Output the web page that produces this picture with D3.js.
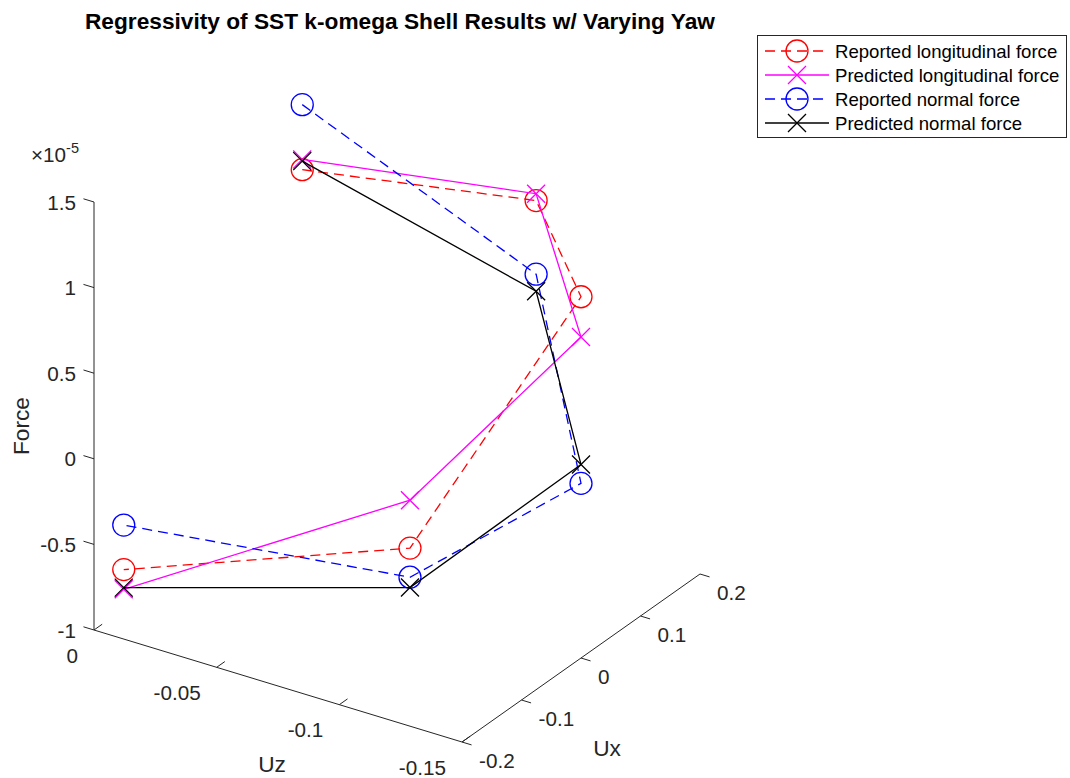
<!DOCTYPE html>
<html>
<head>
<meta charset="utf-8">
<script src="https://cdn.jsdelivr.net/npm/d3@7"></script>
<style>
  body { margin: 0; background: #fff; }
  text { font-family: "Liberation Sans", Arial, Helvetica, sans-serif; fill: #262626; }
</style>
</head>
<body>
<div id="chart"></div>
<script>
// yaw sweep, velocity components (same for every series)
var yaw = [0, 45, 90, 135, 180];
var ux  = [0.15, 0.106, 0, -0.106, -0.15];
var uz  = [0, -0.106, -0.15, -0.106, 0];

// forces, in units of 1e-5
var reportedLong  = [0.83, 1.22, 1.11, -0.29, -0.77];
var predictedLong = [0.89, 1.26, 0.875, -0.01, -0.885];
var reportedNorm  = [1.21, 0.79, 0.02, -0.46, -0.51];
var predictedNorm = [0.88, 0.69, 0.13, -0.52, -0.875];

var seriesNames = ["Reported longitudinal force", "Predicted longitudinal force",
                   "Reported normal force", "Predicted normal force"];

var uzTicks = [0, -0.05, -0.1, -0.15];
var uxTicks = [-0.2, -0.1, 0, 0.1, 0.2];
var fTicks  = [-1, -0.5, 0, 0.5, 1, 1.5];

var series = [
  { name: seriesNames[0], values: reportedLong,  color: "#ff0000", dash: "10,6", marker: "o" },
  { name: seriesNames[1], values: predictedLong, color: "#ff00ff", dash: null,   marker: "x" },
  { name: seriesNames[2], values: reportedNorm,  color: "#0000ff", dash: "10,6", marker: "o" },
  { name: seriesNames[3], values: predictedNorm, color: "#000000", dash: null,   marker: "x" }
];

var width = 1070, height = 778;

var svg = d3.select("#chart").append("svg")
    .attr("width", width)
    .attr("height", height);

////////////////////////////////////////////////////////
// 3D projection ///////////////////////////////////////
////////////////////////////////////////////////////////

// each axis into [0,1] of the box
var sUz = d3.scaleLinear().domain([0, -0.15]).range([0, 1]);
var sUx = d3.scaleLinear().domain([-0.2, 0.2]).range([0, 1]);
var sF  = d3.scaleLinear().domain([-1, 1.5]).range([0, 1]);

// screen position of box corner and edge vectors (MATLAB-like view)
var O  = [94, 630],
    eA = [368, 112],   // along Uz
    eB = [238, -168],  // along Ux
    eC = [0, -428];    // along Force

function proj(z, x, f) {
  var a = sUz(z), b = sUx(x), c = sF(f);
  return [O[0] + a * eA[0] + b * eB[0] + c * eC[0],
          O[1] + a * eA[1] + b * eB[1] + c * eC[1]];
}

function unit(v) { var l = Math.hypot(v[0], v[1]); return [v[0] / l, v[1] / l]; }

var axisColor = "#262626";
var axes = svg.append("g");

// Force axis (Uz=0, Ux=-0.2)
var f0 = proj(0, -0.2, -1), f1 = proj(0, -0.2, 1.5);
axes.append("line").attr("x1", f0[0]).attr("y1", f0[1]).attr("x2", f1[0]).attr("y2", f1[1])
    .attr("stroke", axisColor).attr("stroke-width", 1);
var tF = unit(eA);
fTicks.forEach(function(t) {
  var p = proj(0, -0.2, t);
  axes.append("line").attr("x1", p[0]).attr("y1", p[1])
      .attr("x2", p[0] - tF[0] * 11).attr("y2", p[1] - tF[1] * 11)
      .attr("stroke", axisColor).attr("stroke-width", 1);
  axes.append("text").attr("x", p[0] - 18).attr("y", p[1])
      .attr("text-anchor", "end").attr("dominant-baseline", "central")
      .style("font-size", "20.7px").text(String(t));
});
var ex = axes.append("text").attr("x", 31).attr("y", 162).style("font-size", "20.7px");
ex.append("tspan").text("\u00d710");
ex.append("tspan").attr("dy", -9).style("font-size", "14.5px").text("-5");

// Uz axis (Ux=-0.2, F=-1)
var z0 = proj(0, -0.2, -1), z1 = proj(-0.15, -0.2, -1);
axes.append("line").attr("x1", z0[0]).attr("y1", z0[1]).attr("x2", z1[0]).attr("y2", z1[1])
    .attr("stroke", axisColor).attr("stroke-width", 1);
var tZ = unit(eB);
uzTicks.forEach(function(t) {
  var p = proj(t, -0.2, -1);
  axes.append("line").attr("x1", p[0]).attr("y1", p[1])
      .attr("x2", p[0] + tZ[0] * 10).attr("y2", p[1] + tZ[1] * 10)
      .attr("stroke", axisColor).attr("stroke-width", 1);
  axes.append("text").attr("x", p[0] - 16).attr("y", p[1] + 25)
      .attr("text-anchor", "end").attr("dominant-baseline", "central")
      .style("font-size", "20.7px").text(String(t));
});

// Ux axis (Uz=-0.15, F=-1)
var x0 = proj(-0.15, -0.2, -1), x1 = proj(-0.15, 0.2, -1);
axes.append("line").attr("x1", x0[0]).attr("y1", x0[1]).attr("x2", x1[0]).attr("y2", x1[1])
    .attr("stroke", axisColor).attr("stroke-width", 1);
var tX = unit(eA);
uxTicks.forEach(function(t) {
  var p = proj(-0.15, t, -1);
  axes.append("line").attr("x1", p[0]).attr("y1", p[1])
      .attr("x2", p[0] + tX[0] * 10).attr("y2", p[1] + tX[1] * 10)
      .attr("stroke", axisColor).attr("stroke-width", 1);
  axes.append("text").attr("x", p[0] + 17).attr("y", p[1] + 18)
      .attr("text-anchor", "start").attr("dominant-baseline", "central")
      .style("font-size", "20.7px").text(String(t));
});

// axis labels
axes.append("text").attr("transform", "translate(21,426) rotate(-90)")
    .attr("text-anchor", "middle").attr("dominant-baseline", "central")
    .style("font-size", "22.7px").text("Force");
axes.append("text").attr("x", 272).attr("y", 764)
    .attr("text-anchor", "middle").attr("dominant-baseline", "central")
    .style("font-size", "22.7px").text("Uz");
axes.append("text").attr("x", 607).attr("y", 748)
    .attr("text-anchor", "middle").attr("dominant-baseline", "central")
    .style("font-size", "22.7px").text("Ux");

// title
svg.append("text").attr("x", 400).attr("y", 29)
    .attr("text-anchor", "middle")
    .style("font-size", "22.7px").style("font-weight", "bold").style("fill", "#000")
    .text("Regressivity of SST k-omega Shell Results w/ Varying Yaw");

////////////////////////////////////////////////////////
// Series //////////////////////////////////////////////
////////////////////////////////////////////////////////

var line = d3.line();

function drawMarker(g, type, p, color) {
  if (type === "o") {
    g.append("circle").attr("cx", p[0]).attr("cy", p[1]).attr("r", 11)
        .attr("fill", "none").attr("stroke", color).attr("stroke-width", 1.3);
  } else {
    var h = 9;
    g.append("path")
        .attr("d", "M" + (p[0] - h) + "," + (p[1] - h) + "L" + (p[0] + h) + "," + (p[1] + h) +
                   "M" + (p[0] - h) + "," + (p[1] + h) + "L" + (p[0] + h) + "," + (p[1] - h))
        .attr("fill", "none").attr("stroke", color).attr("stroke-width", 1.3);
  }
}

var plot = svg.append("g");
series.forEach(function(s) {
  var pts = s.values.map(function(v, i) { return proj(uz[i], ux[i], v); });
  var g = plot.append("g");
  g.append("path").attr("d", line(pts))
      .attr("fill", "none").attr("stroke", s.color).attr("stroke-width", 1.3)
      .attr("stroke-dasharray", s.dash);
  pts.forEach(function(p) { drawMarker(g, s.marker, p, s.color); });
});

////////////////////////////////////////////////////////
// Legend //////////////////////////////////////////////
////////////////////////////////////////////////////////

var legend = svg.append("g");
legend.append("rect").attr("x", 757.5).attr("y", 35.5).attr("width", 309).attr("height", 102)
    .attr("fill", "#fff").attr("stroke", axisColor).attr("stroke-width", 1);
series.forEach(function(s, i) {
  var y = 51 + i * 24;
  legend.append("line").attr("x1", 765).attr("y1", y).attr("x2", 829).attr("y2", y)
      .attr("stroke", s.color).attr("stroke-width", 1.3).attr("stroke-dasharray", s.dash);
  drawMarker(legend, s.marker, [797, y], s.color);
  legend.append("text").attr("x", 835).attr("y", y)
      .attr("dominant-baseline", "central").style("font-size", "18.6px").style("fill", "#000")
      .text(s.name);
});
</script>
</body>
</html>
